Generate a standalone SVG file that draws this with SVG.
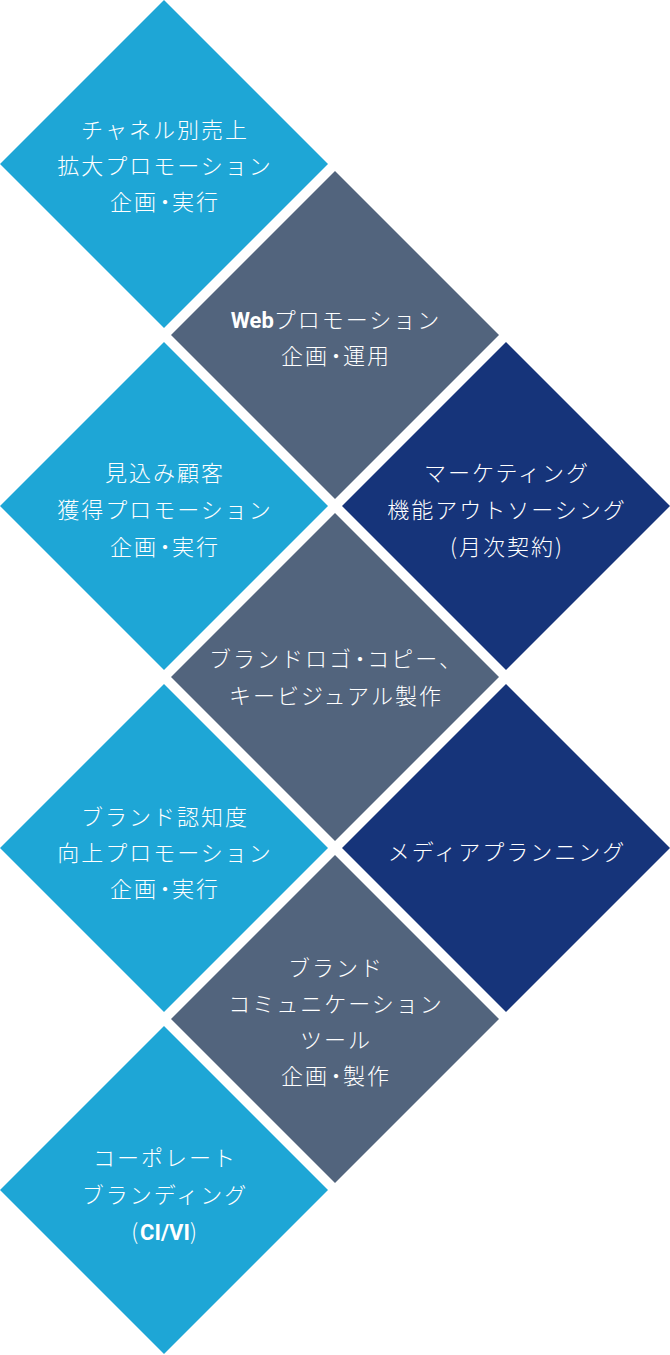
<svg xmlns="http://www.w3.org/2000/svg" width="670" height="1355" viewBox="0 0 670 1355">
<style>
.c1{fill:#1ea6d6}
.c2{fill:#52647d}
.c3{fill:#16347a}
text{font-family:"Noto Sans CJK JP","Noto Sans",sans-serif;font-size:22px;font-weight:300;fill:#ffffff;text-anchor:middle;letter-spacing:2px}
.b{font-family:Roboto,"Noto Sans",sans-serif;font-weight:700;letter-spacing:0px}
.p{letter-spacing:-2px}
.d{letter-spacing:-4px}
</style>
<defs>
<path id="dm" d="M0,-164 L164,0 L0,164 L-164,0 Z"/>
</defs>
<rect width="670" height="1355" fill="#ffffff"/>
<g id="connectors"></g>
<g id="node1">
<use href="#dm" x="164" y="164" class="c1"/>
<text x="165" y="138">チャネル別売上</text>
<text x="165" y="174">拡大プロモーション</text>
<text x="165" y="210">企<tspan class="p">画</tspan><tspan class="d">・</tspan>実行</text>
</g>
<g id="node2">
<use href="#dm" x="335" y="335" class="c2"/>
<text x="336" y="328"><tspan class="b">Web</tspan>プロモーション</text>
<text x="336" y="364">企<tspan class="p">画</tspan><tspan class="d">・</tspan>運用</text>
</g>
<g id="node3">
<use href="#dm" x="164" y="506" class="c1"/>
<text x="165" y="481">見込み顧客</text>
<text x="165" y="518">獲得プロモーション</text>
<text x="165" y="555">企<tspan class="p">画</tspan><tspan class="d">・</tspan>実行</text>
</g>
<g id="node4">
<use href="#dm" x="506" y="506" class="c3"/>
<text x="507" y="481">マーケティング</text>
<text x="507" y="518">機能アウトソーシング</text>
<text x="507" y="555">(月次契約)</text>
</g>
<g id="node5">
<use href="#dm" x="335" y="677" class="c2"/>
<text x="336" y="667">ブランドロ<tspan class="p">ゴ</tspan><tspan class="d">・</tspan>コピー、</text>
<text x="336" y="704">キービジュアル製作</text>
</g>
<g id="node6">
<use href="#dm" x="164" y="848" class="c1"/>
<text x="165" y="825">ブランド認知度</text>
<text x="165" y="861">向上プロモーション</text>
<text x="165" y="897">企<tspan class="p">画</tspan><tspan class="d">・</tspan>実行</text>
</g>
<g id="node7">
<use href="#dm" x="506" y="848" class="c3"/>
<text x="507" y="860">メディアプランニング</text>
</g>
<g id="node8">
<use href="#dm" x="335" y="1019" class="c2"/>
<text x="336" y="976">ブランド</text>
<text x="336" y="1012">コミュニケーション</text>
<text x="336" y="1048">ツール</text>
<text x="336" y="1084">企<tspan class="p">画</tspan><tspan class="d">・</tspan>製作</text>
</g>
<g id="node9">
<use href="#dm" x="164" y="1190" class="c1"/>
<text x="165" y="1166">コーポレート</text>
<text x="165" y="1203">ブランディング</text>
<text x="165" y="1240">(<tspan class="b">CI/VI</tspan>)</text>
</g>
</svg>
